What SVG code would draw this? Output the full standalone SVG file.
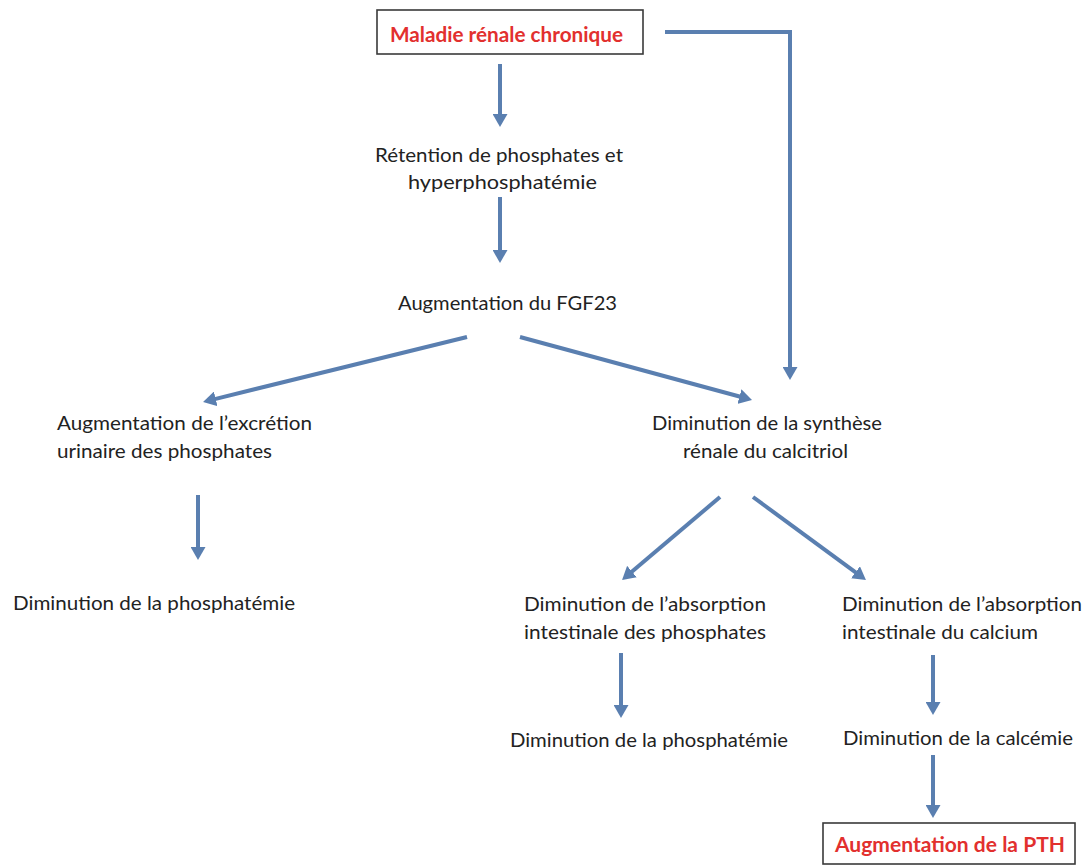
<svg xmlns="http://www.w3.org/2000/svg" width="1084" height="865" viewBox="0 0 1084 865">
  <style>
    .lbl { font-family: Lato, "Open Sans", "Liberation Sans", sans-serif; font-size: 20px; fill: #222222; }
    .key { font-family: Lato, "Open Sans", "Liberation Sans", sans-serif; font-size: 20px; font-weight: bold; fill: #e2302e; }
    .box { fill: #ffffff; stroke: #3a3a3a; stroke-width: 1.6; }
    .arrow { fill: none; stroke: #5a7fb0; stroke-width: 4; marker-end: url(#head); }
  </style>
  <defs>
    <marker id="head" viewBox="0 0 13 15" refX="1" refY="7.5" markerWidth="13" markerHeight="15" markerUnits="userSpaceOnUse" orient="auto">
      <path d="M0,0 L13,7.5 L0,15 Z" fill="#5a7fb0"/>
    </marker>
  </defs>
  <rect width="1084" height="865" fill="#ffffff"/>

  <!-- connectors -->
  <g id="connectors">
    <line class="arrow" x1="500" y1="64" x2="500" y2="115"/>
    <line class="arrow" x1="500" y1="197" x2="500" y2="251"/>
    <polyline class="arrow" points="665,32 790,32 790,368"/>
    <line class="arrow" x1="467" y1="337" x2="214.7" y2="399.1"/>
    <line class="arrow" x1="520" y1="337" x2="740.4" y2="396.8"/>
    <line class="arrow" x1="198" y1="495" x2="198" y2="548"/>
    <line class="arrow" x1="720" y1="497" x2="631.2" y2="572.2"/>
    <line class="arrow" x1="753" y1="497" x2="856.3" y2="572.9"/>
    <line class="arrow" x1="621" y1="653" x2="621" y2="706"/>
    <line class="arrow" x1="933" y1="655" x2="933" y2="703"/>
    <line class="arrow" x1="933" y1="755" x2="933" y2="806"/>
  </g>

  <g id="mrc">
    <rect class="box" x="377" y="10" width="266" height="44"/>
    <text class="key" x="390" y="42" textLength="233" lengthAdjust="spacingAndGlyphs">Maladie rénale chronique</text>
  </g>

  <g id="retention">
    <text class="lbl" x="375" y="162" textLength="248" lengthAdjust="spacingAndGlyphs">Rétention de phosphates et</text>
    <text class="lbl" x="408" y="189" textLength="189" lengthAdjust="spacingAndGlyphs">hyperphosphatémie</text>
  </g>

  <g id="fgf23">
    <text class="lbl" x="398" y="310" textLength="219" lengthAdjust="spacingAndGlyphs">Augmentation du FGF23</text>
  </g>

  <g id="excretion">
    <text class="lbl" x="57" y="430" textLength="255" lengthAdjust="spacingAndGlyphs">Augmentation de l’excrétion</text>
    <text class="lbl" x="57" y="458" textLength="215" lengthAdjust="spacingAndGlyphs">urinaire des phosphates</text>
  </g>

  <g id="calcitriol">
    <text class="lbl" x="652" y="430" textLength="230" lengthAdjust="spacingAndGlyphs">Diminution de la synthèse</text>
    <text class="lbl" x="683" y="458" textLength="165" lengthAdjust="spacingAndGlyphs">rénale du calcitriol</text>
  </g>

  <g id="phosphatemie-left">
    <text class="lbl" x="13" y="610" textLength="282" lengthAdjust="spacingAndGlyphs">Diminution de la phosphatémie</text>
  </g>

  <g id="absorption-phosphates">
    <text class="lbl" x="524" y="611" textLength="242" lengthAdjust="spacingAndGlyphs">Diminution de l’absorption</text>
    <text class="lbl" x="524" y="639" textLength="242" lengthAdjust="spacingAndGlyphs">intestinale des phosphates</text>
  </g>

  <g id="absorption-calcium">
    <text class="lbl" x="842" y="611" textLength="240" lengthAdjust="spacingAndGlyphs">Diminution de l’absorption</text>
    <text class="lbl" x="842" y="639" textLength="196" lengthAdjust="spacingAndGlyphs">intestinale du calcium</text>
  </g>

  <g id="phosphatemie-mid">
    <text class="lbl" x="510" y="747" textLength="278" lengthAdjust="spacingAndGlyphs">Diminution de la phosphatémie</text>
  </g>

  <g id="calcemie">
    <text class="lbl" x="843" y="745" textLength="230" lengthAdjust="spacingAndGlyphs">Diminution de la calcémie</text>
  </g>

  <g id="pth">
    <rect class="box" x="823" y="823" width="252" height="41"/>
    <text class="key" x="835" y="852" textLength="230" lengthAdjust="spacingAndGlyphs">Augmentation de la PTH</text>
  </g>
</svg>
